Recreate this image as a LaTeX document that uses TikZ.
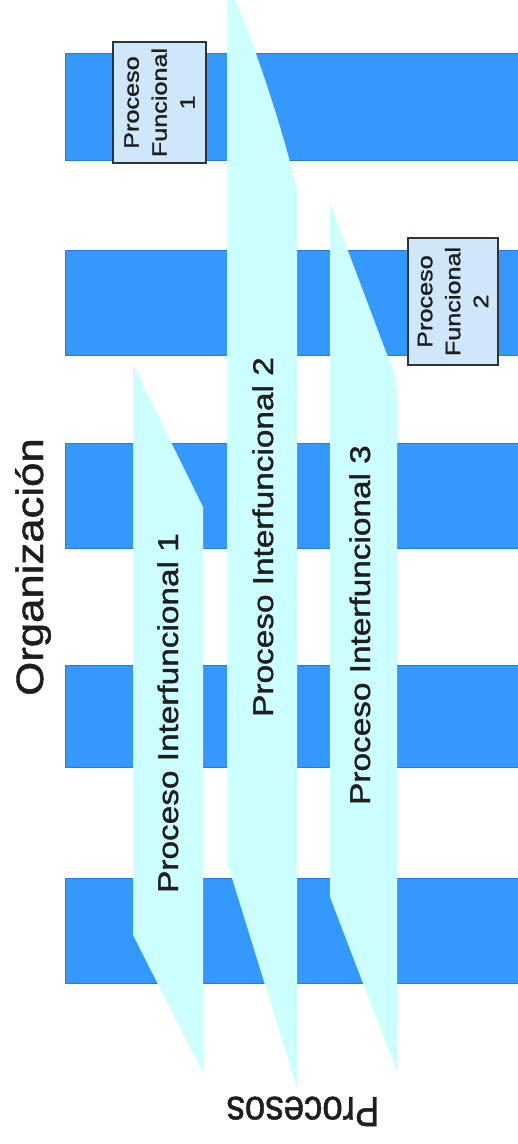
\documentclass[tikz,border=0pt]{standalone}
\usepackage{fontspec}
\setmainfont{Liberation Sans}[FakeBold=1.2]
\definecolor{barblue}{RGB}{51,153,255}
\definecolor{baredge}{RGB}{40,120,230}
\definecolor{proccyan}{RGB}{204,255,255}
\definecolor{boxfill}{RGB}{206,231,250}
\definecolor{txt}{RGB}{30,30,30}
\newcommand{\stretchx}[2]{\scalebox{#1}[1]{#2}}
\begin{document}
\begin{tikzpicture}[x=1pt,y=-1pt,
  bar/.style={fill=barblue, draw=baredge, line width=1pt},
  proc/.style={fill=proccyan},
  plabel/.style={rotate=90, anchor=base, text=txt, font=\fontsize{28.5}{34}\selectfont, inner sep=0pt},
  fbox/.style={rotate=90, draw=black!80, line width=1.6pt, fill=boxfill, align=center, text=txt, font=\fontsize{21}{28}\selectfont, inner sep=0pt},
]
\useasboundingbox (0,0) rectangle (518,1144);
\fill[white] (0,0) rectangle (518,1144);
% functional areas (bars)
\foreach \t/\b in {53/160, 250/355, 443/548, 665/767, 878/983}
  \draw[bar] (65,\t) rectangle (530,\b);
% cross-functional processes
\path[proc] (133,365) -- (203,507) -- (203,1073) -- (133,935) -- cycle;
\path[proc] (227,-5) -- (233,-5) .. controls (255,45) and (283,130) .. (297,190) -- (297,1088) -- (227,862) -- cycle;
\path[proc] (330,203) -- (386,352) .. controls (392,366) and (397,380) .. (397,398) -- (397,1072) -- (330,897) -- cycle;
% labels
\node[plabel] (l1) at (178,713) {\stretchx{1.17}{Proceso Interfuncional 1}};
\node[plabel] (l2) at (273,537) {\stretchx{1.17}{Proceso Interfuncional 2}};
\node[plabel] (l3) at (370,625) {\stretchx{1.17}{Proceso Interfuncional 3}};
\node[plabel, font=\fontsize{38}{44}\selectfont] (org) at (43,567) {\stretchx{1.15}{Organización}};
\node[rotate=180, anchor=base, text=txt, font=\fontsize{36.7}{40}\selectfont, inner sep=0pt] (procs) at (303,1097) {\scalebox{1}[1.15]{Procesos}};
% functional process boxes
\node[fbox, minimum width=121pt, minimum height=93pt] (f1) at (159.5,102.5)
  {\stretchx{1.2}{Proceso}\\\stretchx{1.2}{Funcional}\\\stretchx{1.2}{1}};
\node[fbox, minimum width=127pt, minimum height=90pt] (f2) at (453,301.5)
  {\stretchx{1.2}{Proceso}\\\stretchx{1.2}{Funcional}\\\stretchx{1.2}{2}};
\end{tikzpicture}
\end{document}
